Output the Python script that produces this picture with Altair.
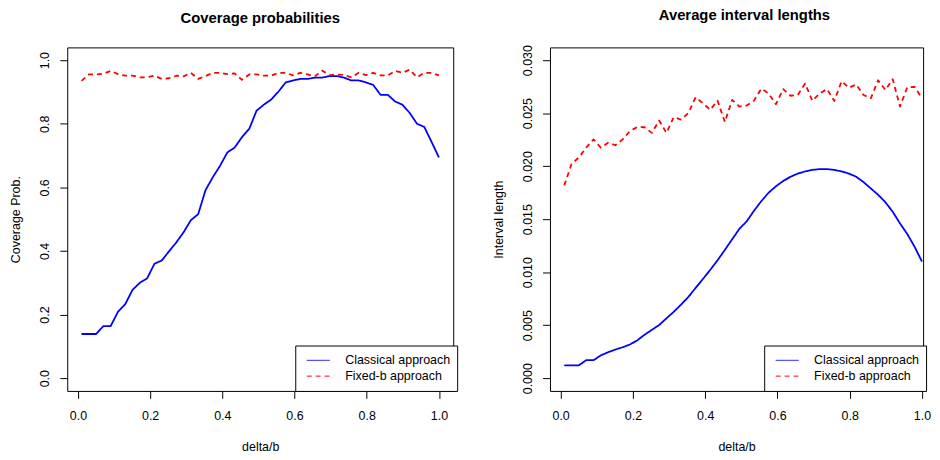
import altair as alt
import pandas as pd

FONT = "Liberation Sans, Arial, Helvetica, sans-serif"
SERIES = ["Classical approach", "Fixed-b approach"]

# delta/b grid (50 points from 0.01 to 1.0)
delta_b = [0.0100, 0.0302, 0.0504, 0.0706, 0.0908, 0.1110, 0.1312, 0.1514, 0.1716, 0.1918,
           0.2120, 0.2322, 0.2524, 0.2726, 0.2928, 0.3130, 0.3332, 0.3534, 0.3736, 0.3938,
           0.4140, 0.4342, 0.4544, 0.4746, 0.4948, 0.5150, 0.5352, 0.5554, 0.5756, 0.5958,
           0.6160, 0.6362, 0.6564, 0.6766, 0.6968, 0.7170, 0.7372, 0.7574, 0.7776, 0.7978,
           0.8180, 0.8382, 0.8584, 0.8786, 0.8988, 0.9190, 0.9392, 0.9594, 0.9796, 1.0000]

# Coverage probabilities
cov_classical = [0.139, 0.139, 0.139, 0.164, 0.164, 0.209, 0.233, 0.278, 0.300, 0.314,
                 0.360, 0.370, 0.399, 0.427, 0.459, 0.497, 0.516, 0.591, 0.632, 0.668,
                 0.710, 0.725, 0.758, 0.784, 0.841, 0.860, 0.876, 0.901, 0.930, 0.936,
                 0.941, 0.941, 0.945, 0.945, 0.950, 0.950, 0.945, 0.936, 0.936, 0.930,
                 0.922, 0.891, 0.891, 0.870, 0.860, 0.834, 0.800, 0.790, 0.743, 0.694]
cov_fixedb = [0.935, 0.955, 0.955, 0.957, 0.966, 0.956, 0.951, 0.951, 0.946, 0.946,
              0.951, 0.941, 0.943, 0.951, 0.949, 0.960, 0.941, 0.950, 0.960, 0.960,
              0.956, 0.958, 0.938, 0.955, 0.955, 0.951, 0.951, 0.960, 0.960, 0.952,
              0.960, 0.955, 0.949, 0.967, 0.953, 0.955, 0.953, 0.946, 0.960, 0.953,
              0.960, 0.952, 0.952, 0.966, 0.960, 0.970, 0.946, 0.960, 0.960, 0.952]

# Average interval lengths
len_classical = [0.00122, 0.00122, 0.00122, 0.00170, 0.00170, 0.00215, 0.00245, 0.00270, 0.00292, 0.00318,
                 0.00357, 0.00410, 0.00456, 0.00502, 0.00565, 0.00626, 0.00694, 0.00766, 0.00852, 0.00936,
                 0.01022, 0.01112, 0.01210, 0.01310, 0.01410, 0.01480, 0.01580, 0.01670, 0.01750, 0.01810,
                 0.01860, 0.01900, 0.01930, 0.01950, 0.01965, 0.01972, 0.01972, 0.01965, 0.01950, 0.01930,
                 0.01900, 0.01850, 0.01790, 0.01730, 0.01660, 0.01570, 0.01460, 0.01360, 0.01240, 0.01100]
len_fixedb = [0.01819, 0.02020, 0.02082, 0.02175, 0.02253, 0.02175, 0.02221, 0.02197, 0.02253, 0.02330,
              0.02370, 0.02367, 0.02314, 0.02430, 0.02314, 0.02463, 0.02439, 0.02500, 0.02649, 0.02593,
              0.02532, 0.02618, 0.02417, 0.02625, 0.02562, 0.02572, 0.02618, 0.02732, 0.02686, 0.02584,
              0.02727, 0.02664, 0.02671, 0.02779, 0.02615, 0.02686, 0.02727, 0.02615, 0.02801, 0.02739,
              0.02770, 0.02671, 0.02640, 0.02810, 0.02718, 0.02820, 0.02562, 0.02745, 0.02748, 0.02640]

x_ticks = [0.0, 0.2, 0.4, 0.6, 0.8, 1.0]
cov_ticks = [0.0, 0.2, 0.4, 0.6, 0.8, 1.0]
len_ticks = [0.000, 0.005, 0.010, 0.015, 0.020, 0.025, 0.030]


def make_df(a, b):
    rows = []
    for xv, va, vb in zip(delta_b, a, b):
        rows.append({"x": xv, "y": va, "series": SERIES[0], "o": 0})
        rows.append({"x": xv, "y": vb, "series": SERIES[1], "o": 1})
    return pd.DataFrame(rows)


def panel(df, title, ytitle, ydomain, yticks, yfmt, xmax, width, legend_x, title_dx):
    legend = alt.Legend(
        title=None, orient="none", legendX=legend_x, legendY=302,
        direction="vertical", symbolType="stroke", symbolSize=543,
        symbolStrokeWidth=1, labelFont=FONT, labelFontSize=12.6, labelColor="black",
        labelOffset=14.7, symbolOffset=3.85, padding=7, clipHeight=16, rowPadding=0,
        strokeColor="black", fillColor="white", cornerRadius=0,
    )
    return alt.Chart(
        df,
        title=alt.TitleParams(
            text=title, font=FONT, fontSize=15, fontWeight="bold", color="black",
            anchor="middle", baseline="top", offset=21.5, dx=title_dx,
        ),
    ).mark_line(strokeWidth=1.8, clip=True, strokeJoin="round").encode(
        x=alt.X("x:Q",
                scale=alt.Scale(domain=[-0.0296, xmax], nice=False, zero=False),
                axis=alt.Axis(values=x_ticks, format=".1f", title="delta/b",
                              labelPadding=11.6, titlePadding=18.3, labelFlush=False,
                              labelOverlap=False)),
        y=alt.Y("y:Q",
                scale=alt.Scale(domain=ydomain, nice=False, zero=False),
                axis=alt.Axis(values=yticks, format=yfmt, title=ytitle,
                              labelAngle=270, labelAlign="center", labelBaseline="bottom",
                              labelPadding=8, titlePadding=16.7, labelFlush=False,
                              labelOverlap=False)),
        color=alt.Color("series:N",
                        scale=alt.Scale(domain=SERIES, range=["#0000ff", "#ff0000"]),
                        legend=legend),
        strokeDash=alt.StrokeDash("series:N",
                                  scale=alt.Scale(domain=SERIES, range=[[1, 0], [5, 4]]),
                                  legend=legend),
        order=alt.Order("o:Q"),
    ).properties(width=width, height=348)


left = panel(make_df(cov_classical, cov_fixedb), "Coverage probabilities", "Coverage Prob.",
             [-0.04, 1.04], cov_ticks, ".1f", 1.0396, 391, 231, 0)
right = panel(make_df(len_classical, len_fixedb), "Average interval lengths", "Interval length",
              [-0.0012, 0.0312], len_ticks, ".3f", 1.0032, 378, 217, 8)

chart = alt.hconcat(left, right, spacing=34).resolve_scale(
    color="independent", strokeDash="independent", x="independent", y="independent"
).properties(
    padding={"left": 1, "top": -3, "right": 0, "bottom": 0},
).configure(
    background="white",
).configure_view(
    stroke="black", strokeWidth=1,
).configure_axis(
    domain=False, grid=False, ticks=True, tickColor="black", tickSize=7.5, tickWidth=1,
    labelFont=FONT, labelFontSize=12.6, labelColor="black",
    titleFont=FONT, titleFontSize=12.6, titleFontWeight="normal", titleColor="black",
)

chart.save("out.html", embed_options={"renderer": "svg", "actions": False})
